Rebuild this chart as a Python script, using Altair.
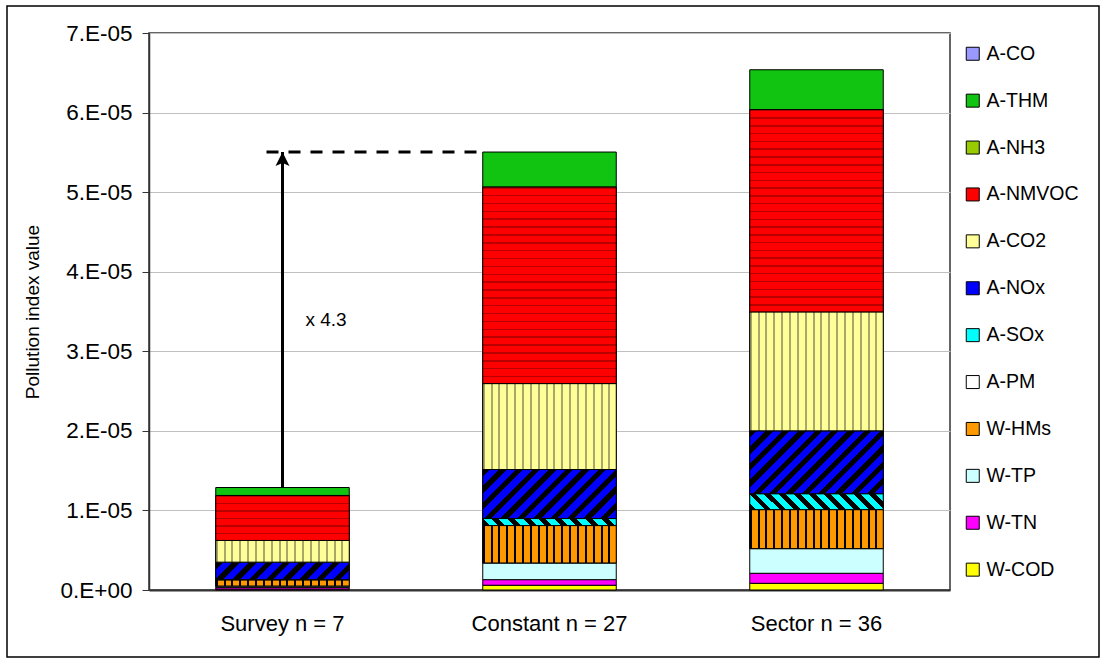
import altair as alt
import pandas as pd

# Categories on the x axis
groups = ["Survey n = 7", "Constant n = 27", "Sector n = 36"]

# Pollutant components, listed top-to-bottom as in the legend
components = ["A-CO", "A-THM", "A-NH3", "A-NMVOC", "A-CO2", "A-NOx",
              "A-SOx", "A-PM", "W-HMs", "W-TP", "W-TN", "W-COD"]
colors = ["#9999FF", "#11C411", "#99CC00", "#FF0000", "#FFFF99", "#0000FF",
          "#00FFFF", "#FFFFFF", "#FF9900", "#CCFFFF", "#FF00FF", "#FFFF00"]

# Pollution index contributions per group (same order as components)
survey = [0, 1.0e-6, 0, 5.65e-6, 2.73e-6, 2.2e-6, 5e-8, 0, 7.5e-7, 2e-7, 2e-7, 1e-7]
constant = [0, 4.4e-6, 0, 2.47e-5, 1.08e-5, 6.16e-6, 8.8e-7, 0, 4.7e-6, 2.1e-6, 7e-7, 6e-7]
sector = [0, 5.0e-6, 0, 2.543e-5, 1.495e-5, 7.9e-6, 2.0e-6, 0, 4.9e-6, 3.1e-6, 1.26e-6, 8.4e-7]

y_ticks = [0, 1e-5, 2e-5, 3e-5, 4e-5, 5e-5, 6e-5, 7e-5]

W, H = 801, 557
Y_MAX = 7e-5
BAR_W = W / 3 * 0.5
FONT = "Liberation Sans"

# Stack the segments from the bottom (W-COD) upwards
rows = []
for g, vals in zip(groups, [survey, constant, sector]):
    cum = 0.0
    for comp, v in reversed(list(zip(components, vals))):
        if v > 0:
            rows.append({"group": g, "component": comp, "lo": cum, "hi": cum + v, "v": v})
        cum += v
seg = pd.DataFrame(rows)

x_enc = alt.X("group:N", sort=groups,
              scale=alt.Scale(paddingInner=0.5, paddingOuter=0.25),
              axis=alt.Axis(title=None, labelAngle=0, labelFontSize=22, ticks=False,
                            labelPadding=23, domainColor="#333333", domainWidth=2,
                            labelColor="black", grid=False))
y_enc = alt.Y("hi:Q", scale=alt.Scale(domain=[0, Y_MAX], nice=False, zero=True),
              axis=alt.Axis(values=y_ticks, title="Pollution index value",
                            labelExpr="datum.value == 0 ? '0.E+00' : format(datum.value * 1e5, '.0f') + '.E-05'",
                            labelFontSize=22.5, labelColor="black", tickSize=7, labelPadding=10,
                            tickColor="#333333", domainColor="#333333", domainWidth=1.5,
                            gridColor="#c0c0c0", gridWidth=1,
                            titleFontSize=19, titleFontWeight="normal", titleColor="black",
                            titleX=-117, titleY=H / 2, titleAngle=270,
                            titleBaseline="middle", titleAlign="center"))


def stripe_stops(base, ink, n, frac):
    stops = []
    for k in range(n):
        a, b, c = k / n, (k + frac) / n, (k + 1) / n
        stops += [alt.GradientStop(offset=a, color=ink), alt.GradientStop(offset=b, color=ink),
                  alt.GradientStop(offset=b, color=base), alt.GradientStop(offset=c, color=base)]
    return stops


def vertical_lines(base, ink, period, width):
    n = max(1, round(BAR_W / period))
    return alt.LinearGradient(gradient="linear", x1=0, y1=0, x2=1, y2=0,
                              stops=stripe_stops(base, ink, n, width * n / BAR_W))


def horizontal_lines(base, ink, period, width, h):
    n = max(1, round(h / period))
    return alt.LinearGradient(gradient="linear", x1=0, y1=0, x2=0, y2=1,
                              stops=stripe_stops(base, ink, n, min(0.9, width * n / h)))


def diagonal(base, ink, period, frac, h, rising=True):
    r = h / BAR_W
    a = (1 + r) / (1 + r * r)
    n = max(1, round((BAR_W + h) / period))
    if rising:
        return alt.LinearGradient(gradient="linear", x1=0, y1=0, x2=a, y2=a * r,
                                  stops=stripe_stops(base, ink, n, frac))
    return alt.LinearGradient(gradient="linear", x1=0, y1=1, x2=a, y2=1 - a * r,
                              stops=stripe_stops(base, ink, n, frac))


base = alt.Chart(seg).mark_bar(stroke="black", strokeWidth=1).encode(
    x=x_enc, y=y_enc, y2="lo:Q",
    color=alt.Color("component:N", title=None,
                    scale=alt.Scale(domain=components, range=colors),
                    legend=alt.Legend(orient="none", legendX=814, legendY=11,
                                      symbolType="square", symbolSize=169,
                                      symbolStrokeColor="black", symbolStrokeWidth=1,
                                      labelFontSize=19.5, labelOffset=4, rowPadding=25.9,
                                      padding=0, labelLimit=200, labelColor="black")),
)

# Hatched textures laid over the plain segments
layers = [base]
for _, row in seg.iterrows():
    h_px = row["v"] / Y_MAX * H
    comp = row["component"]
    fill = None
    if comp == "W-HMs":
        fill = vertical_lines("#FF9900", "#000000", 7.9, 2)
    elif comp == "A-CO2":
        fill = vertical_lines("#FFFF99", "#a8a868", 7.8, 2)
    elif comp == "A-NMVOC":
        fill = horizontal_lines("#FF0000", "#b80000", 7.8, 1.5, h_px)
    elif comp == "A-NOx" and h_px > 3:
        fill = diagonal("#0000FF", "#000000", 16, 0.45, h_px, rising=True)
    elif comp == "A-SOx" and h_px > 3:
        fill = diagonal("#00FFFF", "#000000", 15, 0.45, h_px, rising=False)
    if fill is not None:
        sub = seg[(seg["group"] == row["group"]) & (seg["component"] == comp)]
        layers.append(alt.Chart(sub).mark_bar(fill=fill, stroke="black", strokeWidth=1)
                      .encode(x=x_enc, y=y_enc, y2="lo:Q"))

# Annotation: survey total vs constant total
survey_total = sum(survey)
constant_total = sum(constant)
ann = pd.DataFrame({
    "group": [groups[0]], "target": [groups[1]],
    "lo": [survey_total], "hi": [constant_total],
    "mid": [(survey_total + constant_total) / 2],
    "label": [f"x {constant_total / survey_total:.1f}"],
})

dash = alt.Chart(ann).mark_rule(color="black", strokeWidth=3, strokeDash=[12, 10],
                                xOffset=-16, x2Offset=-70).encode(
    x=x_enc, x2="target:N", y=y_enc)
arrow = alt.Chart(ann).mark_rule(color="black", strokeWidth=3).encode(
    x=x_enc, y=alt.Y("lo:Q", scale=alt.Scale(domain=[0, Y_MAX], nice=False)), y2="hi:Q")
head = alt.Chart(ann).mark_point(shape="M0,-1L1,1L0,0.55L-1,1Z", filled=True, fill="black",
                                 opacity=1, size=196, yOffset=7, strokeWidth=0).encode(
    x=x_enc, y=y_enc)
ratio = alt.Chart(ann).mark_text(align="left", dx=23, fontSize=19, font=FONT, color="black").encode(
    x=x_enc, y=alt.Y("mid:Q", scale=alt.Scale(domain=[0, Y_MAX], nice=False)), text="label:N")

frame = alt.Chart(pd.DataFrame({"k": [0]})).mark_rect(
    fillOpacity=0, stroke="black", strokeWidth=1.5).encode(
    x=alt.value(-142), x2=alt.value(950), y=alt.value(-27), y2=alt.value(624))

chart = alt.layer(frame, *layers, dash, arrow, head, ratio).properties(
    width=W, height=H,
    padding={"left": 149, "top": 33, "right": 154, "bottom": 69},
    autosize=alt.AutoSizeParams(type="none"),
    background="white",
).configure(font=FONT).configure_view(stroke="#333333", strokeWidth=1.5)

chart.save("out.html", embed_options={"renderer": "svg", "actions": False})
